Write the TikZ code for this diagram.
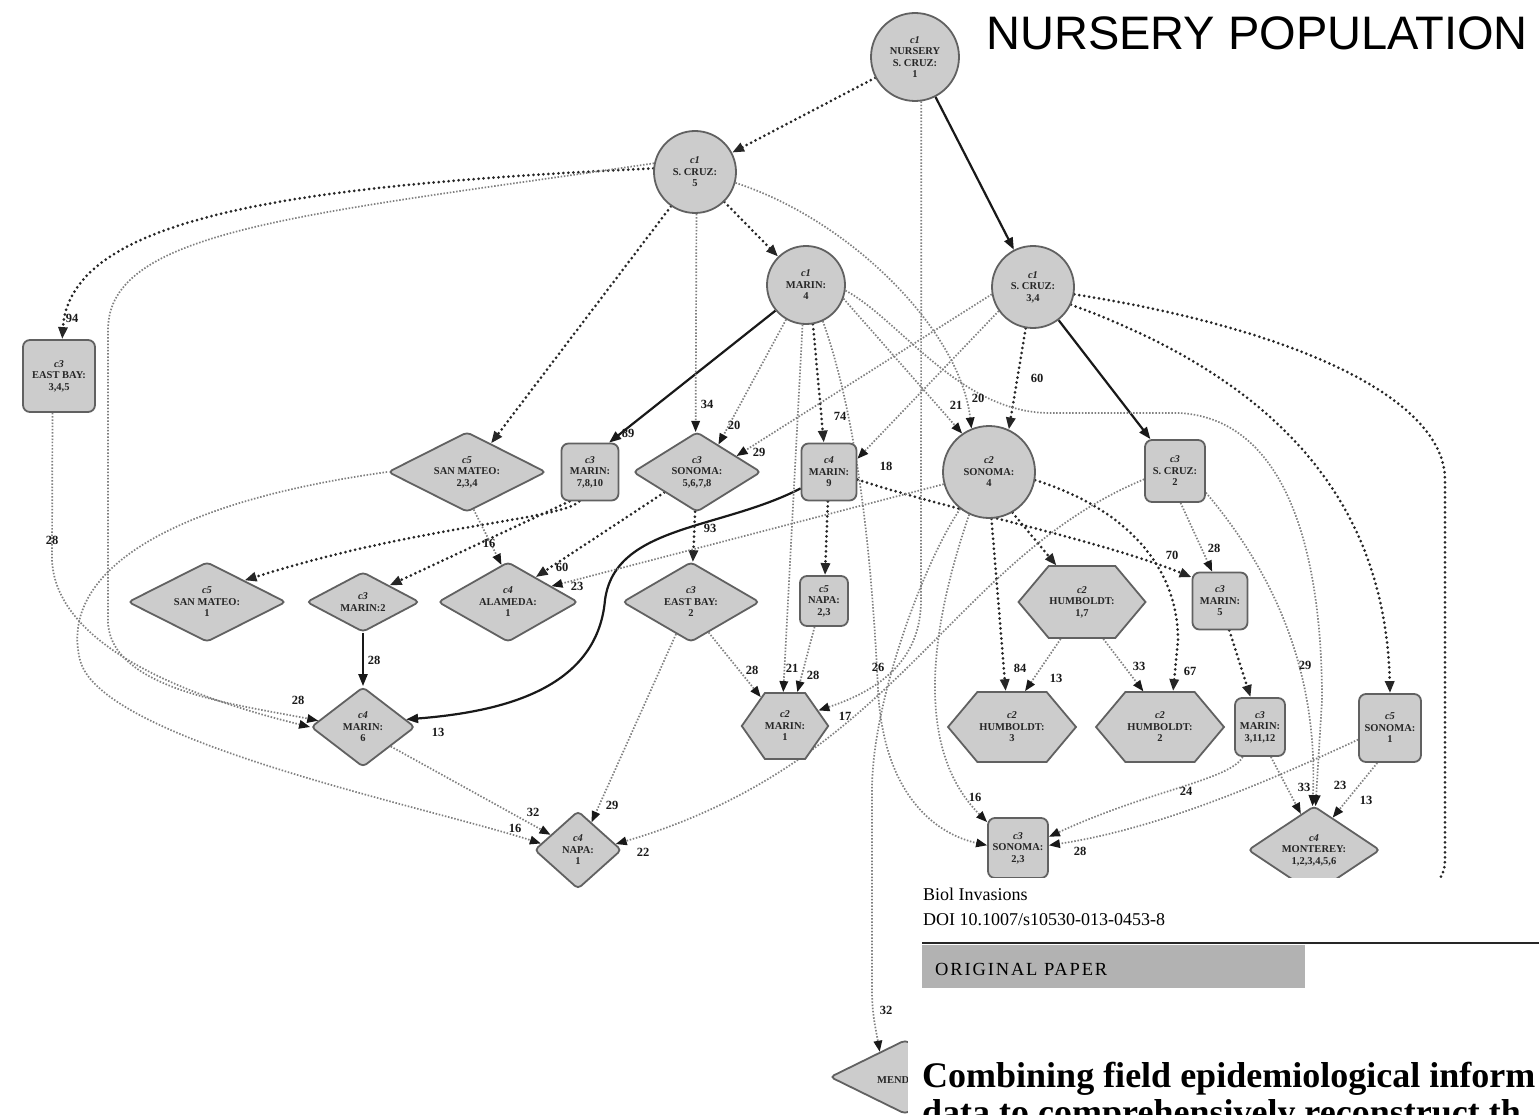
\documentclass[tikz,border=0pt]{standalone}
\usepackage{fontspec}
\setmainfont{Liberation Serif}
\newfontfamily\arialf{Liberation Sans}
\usetikzlibrary{shapes.geometric,shapes.symbols,arrows.meta}
\pgfdeclarelayer{bg}\pgfdeclarelayer{edges}\pgfdeclarelayer{fg}
\pgfsetlayers{bg,edges,main,fg}
\newcommand{\nfont}{\bfseries\fontsize{10.5}{11.5}\selectfont}
\newcommand{\lfont}{\bfseries\fontsize{12.5}{12.5}\selectfont}
\begin{document}
\begin{tikzpicture}[x=1pt,y=-1pt,
  nd/.style={draw=black!62, fill=black!20, line width=1.8pt, font=\nfont, align=center, inner sep=0pt, text=black!85},
  circ/.style={nd, circle},
  rbox/.style={nd, rectangle, rounded corners=7pt},
  dia/.style={nd, diamond, rounded corners=4pt, aspect=2},
  hexa/.style={nd, signal, signal to=east and west, signal pointer angle=100},
  solidE/.style={line width=2.2pt, draw=black!90, -{Triangle[length=12pt,width=9pt]}},
  dotE/.style={line width=3pt, draw=black!85, dash pattern=on 0pt off 5pt, line cap=round, -{Triangle[length=12pt,width=9pt]}},
  lightE/.style={line width=1.7pt, draw=black!50, dash pattern=on 1.5pt off 1.7pt, -{Triangle[length=11pt,width=8.5pt,color=black!90]}},
  lbl/.style={font=\lfont, inner sep=0pt, text=black!90}
]
\begin{pgfonlayer}{bg}
\fill[white] (0,0) rectangle (1539,1115);
\end{pgfonlayer}
\path[use as bounding box] (0,0) rectangle (1539,1115);

% ---------- nodes ----------
\node[circ, minimum size=88pt] (N1) at (915,57) {\textit{c1}\\NURSERY\\S. CRUZ:\\1};
\node[circ, minimum size=82pt] (SC5) at (695,172) {\textit{c1}\\S. CRUZ:\\5};
\node[circ, minimum size=78pt] (MA4) at (806,285) {\textit{c1}\\MARIN:\\4};
\node[circ, minimum size=82pt] (SC34) at (1033,287) {\textit{c1}\\S. CRUZ:\\3,4};
\node[rbox, minimum width=72pt, minimum height=72pt] (EB345) at (59,376) {\textit{c3}\\EAST BAY:\\3,4,5};
\node[dia, minimum width=158pt, minimum height=80pt] (SM234) at (467,472) {\textit{c5}\\SAN MATEO:\\2,3,4};
\node[rbox, minimum width=57pt, minimum height=57pt] (MA7810) at (590,472) {\textit{c3}\\MARIN:\\7,8,10};
\node[dia, minimum width=128pt, minimum height=80pt] (SO5678) at (697,472) {\textit{c3}\\SONOMA:\\5,6,7,8};
\node[rbox, minimum width=55pt, minimum height=57pt] (MA9) at (829,472) {\textit{c4}\\MARIN:\\9};
\node[circ, minimum size=92pt] (SO4) at (989,472) {\textit{c2}\\SONOMA:\\4};
\node[rbox, minimum width=60pt, minimum height=62pt] (SC2) at (1175,471) {\textit{c3}\\S. CRUZ:\\2};
\node[dia, minimum width=158pt, minimum height=80pt] (SM1) at (207,602) {\textit{c5}\\SAN MATEO:\\1};
\node[dia, minimum width=113pt, minimum height=60pt] (MA2) at (363,602) {\textit{c3}\\MARIN:2};
\node[dia, minimum width=140pt, minimum height=80pt] (AL1) at (508,602) {\textit{c4}\\ALAMEDA:\\1};
\node[dia, minimum width=137pt, minimum height=80pt] (EB2) at (691,602) {\textit{c3}\\EAST BAY:\\2};
\node[rbox, minimum width=48pt, minimum height=50pt] (NA23) at (824,601) {\textit{c5}\\NAPA:\\2,3};
\node[hexa, minimum width=127pt, minimum height=72pt] (HU17) at (1082,602) {\textit{c2}\\HUMBOLDT:\\1,7};
\node[rbox, minimum width=55pt, minimum height=57pt] (MA5) at (1220,601) {\textit{c3}\\MARIN:\\5};
\node[dia, aspect=1, minimum width=104pt, minimum height=80pt] (MA6) at (363,727) {\textit{c4}\\MARIN:\\6};
\node[hexa, signal pointer angle=110, minimum width=86pt, minimum height=66pt] (MA1) at (785,726) {\textit{c2}\\MARIN:\\1};
\node[hexa, minimum width=128pt, minimum height=70pt] (HU3) at (1012,727) {\textit{c2}\\HUMBOLDT:\\3};
\node[hexa, minimum width=128pt, minimum height=70pt] (HU2) at (1160,727) {\textit{c2}\\HUMBOLDT:\\2};
\node[rbox, minimum width=50pt, minimum height=58pt] (MA31112) at (1260,727) {\textit{c3}\\MARIN:\\3,11,12};
\node[rbox, minimum width=62pt, minimum height=68pt] (SO1) at (1390,728) {\textit{c5}\\SONOMA:\\1};
\node[dia, aspect=1, minimum width=87pt, minimum height=78pt] (NA1) at (578,850) {\textit{c4}\\NAPA:\\1};
\node[rbox, minimum width=60pt, minimum height=60pt] (SO23) at (1018,848) {\textit{c3}\\SONOMA:\\2,3};
\node[dia, minimum width=132pt, minimum height=88pt] (MO) at (1314,850) {\textit{c4}\\MONTEREY:\\1,2,3,4,5,6};
\node[dia, minimum width=150pt, minimum height=74pt] (MENDO) at (905,1077) {};
\node[font=\nfont, anchor=west, inner sep=0pt, text=black!85] (MENDOt) at (877,1080) {MENDO};
\coordinate (offR) at (1420,895);

% ---------- edges ----------
\begin{pgfonlayer}{edges}
% solid
\draw[solidE] (N1) -- (SC34);
\draw[solidE] (MA4.220) -- (MA7810.57);
\draw[solidE] (SC34) -- (SC2);
\draw[solidE] (MA2) -- (MA6);
\draw[solidE] (MA9.210) .. controls (720,530) and (615,525) .. (605,600) .. controls (597,690) and (500,712) .. (MA6.10);
% thick dotted
\draw[dotE] (N1) -- (SC5);
\draw[dotE] (SC5.175) .. controls (300,185) and (70,215) .. (EB345.85);
\draw[dotE] (SC5.235) -- (SM234.50);
\draw[dotE] (SC5) -- (MA4);
\draw[dotE] (MA4.-80) -- (MA9.100);
\draw[dotE] (SC34.-100) -- (SO4.65);
\draw[dotE] (SC34.-25) .. controls (1250,370) and (1385,480) .. (SO1.north);
\draw[dotE, -] (SC34.-10) .. controls (1300,330) and (1445,400) .. (1445,480) -- (1445,860) .. controls (1445,875) and (1438,885) .. (offR);
\draw[dotE] (SO4.-60) -- (HU17.125);
\draw[dotE] (SO4.-87) -- (HU3.100);
\draw[dotE] (SO4.-10) .. controls (1130,510) and (1178,570) .. (1178,640) -- (HU2.70);
\draw[dotE] (MA9) -- (NA23);
\draw[dotE] (MA9.-15) .. controls (950,510) and (1100,540) .. (MA5.140);
\draw[dotE] (MA7810.-110) .. controls (560,520) and (420,525) .. (SM1.30);
\draw[dotE] (MA7810.-125) -- (MA2.32);
\draw[dotE] (SO5678.212) -- (AL1.42);
\draw[dotE] (SO5678) -- (EB2);
\draw[dotE] (MA5) -- (MA31112);
% light dotted
\draw[lightE] (N1.-82) -- (921,600) .. controls (921,660) and (880,690) .. (MA1.25);
\draw[lightE] (SC5.-88) -- (SO5678.92);
\draw[lightE] (SC5.168) .. controls (300,215) and (108,230) .. (108,330) -- (108,620) .. controls (108,690) and (240,705) .. (MA6.172);
\draw[lightE] (SC5.-15) .. controls (850,220) and (960,330) .. (SO4.112);
\draw[lightE] (MA4.240) -- (SO5678.52);
\draw[lightE] (MA4.-95) -- (MA1.93);
\draw[lightE] (MA4.-20) -- (SO4.125);
\draw[lightE] (MA4.-8) .. controls (900,320) and (960,413) .. (1050,413) -- (1180,413) .. controls (1290,420) and (1322,560) .. (1322,700) -- (MO.88);
\draw[lightE] (MA4.-65) .. controls (858,420) and (872,560) .. (878,690) .. controls (884,800) and (940,835) .. (SO23.175);
\draw[lightE] (SC34.190) -- (SO5678.22);
\draw[lightE] (SC34.215) -- (MA9.25);
\draw[lightE] (SO4.195) -- (AL1.20);
\draw[lightE] (SO4.232) .. controls (925,560) and (872,700) .. (872,790) -- (872,990) .. controls (872,1015) and (876,1030) .. (MENDO.135);
\draw[lightE] (SO4.245) .. controls (940,600) and (905,740) .. (SO23.140);
\draw[lightE] (SC2.-80) -- (MA5.105);
\draw[lightE] (SC2.-35) .. controls (1280,580) and (1318,680) .. (MO.92);
\draw[lightE] (SC2.195) .. controls (950,560) and (900,760) .. (NA1.9);
\draw[lightE] (SM234.-80) -- (AL1.100);
\draw[lightE] (SM234.180) .. controls (150,505) and (60,580) .. (80,660) .. controls (100,740) and (420,805) .. (NA1.170);
\draw[lightE] (EB345.-100) -- (52,560) .. controls (56,650) and (200,700) .. (MA6.180);
\draw[lightE] (MA6.-35) -- (NA1.151);
\draw[lightE] (EB2.-60) -- (MA1.130);
\draw[lightE] (EB2.-115) -- (NA1.64);
\draw[lightE] (NA23.-110) -- (MA1.70);
\draw[lightE] (HU17.-120) -- (HU3.70);
\draw[lightE] (HU17.-60) -- (HU2.115);
\draw[lightE] (MA31112.-70) -- (MO.110);
\draw[lightE] (MA31112.-120) .. controls (1230,780) and (1150,790) .. (SO23.20);
\draw[lightE] (SO1.200) .. controls (1250,790) and (1150,830) .. (SO23.5);
\draw[lightE] (SO1.-110) -- (MO.60);
\end{pgfonlayer}

% ---------- edge labels ----------
\node[lbl] (l01) at (72,318) {94};
\node[lbl] (l02) at (707,404) {34};
\node[lbl] (l03) at (628,433) {89};
\node[lbl] (l04) at (734,425) {20};
\node[lbl] (l05) at (759,452) {29};
\node[lbl] (l06) at (840,416) {74};
\node[lbl] (l07) at (886,466) {18};
\node[lbl] (l08) at (956,405) {21};
\node[lbl] (l09) at (978,398) {20};
\node[lbl] (l10) at (1037,378) {60};
\node[lbl] (l11) at (489,543) {16};
\node[lbl] (l12) at (710,528) {93};
\node[lbl] (l13) at (562,567) {60};
\node[lbl] (l14) at (577,586) {23};
\node[lbl] (l15) at (1172,555) {70};
\node[lbl] (l16) at (1214,548) {28};
\node[lbl] (l17) at (1020,668) {84};
\node[lbl] (l18) at (1056,678) {13};
\node[lbl] (l19) at (1139,666) {33};
\node[lbl] (l20) at (1190,671) {67};
\node[lbl] (l21) at (374,660) {28};
\node[lbl] (l22) at (298,700) {28};
\node[lbl] (l23) at (438,732) {13};
\node[lbl] (l24) at (52,540) {28};
\node[lbl] (l25) at (752,670) {28};
\node[lbl] (l26) at (792,668) {21};
\node[lbl] (l27) at (813,675) {28};
\node[lbl] (l28) at (845,716) {17};
\node[lbl] (l29) at (878,667) {26};
\node[lbl] (l30) at (1305,665) {29};
\node[lbl] (l31) at (975,797) {16};
\node[lbl] (l32) at (1186,791) {24};
\node[lbl] (l33) at (1080,851) {28};
\node[lbl] (l34) at (1304,787) {33};
\node[lbl] (l35) at (1340,785) {23};
\node[lbl] (l36) at (1366,800) {13};
\node[lbl] (l37) at (533,812) {32};
\node[lbl] (l38) at (515,828) {16};
\node[lbl] (l39) at (612,805) {29};
\node[lbl] (l40) at (643,852) {22};
\node[lbl] (l41) at (886,1010) {32};

% ---------- title ----------
\node[anchor=base west, inner sep=0pt, font=\arialf\fontsize{47}{50}\selectfont] (title) at (986,50) {NURSERY POPULATION};

% ---------- paper overlay ----------
\begin{pgfonlayer}{fg}
\fill[white] (908,878) rectangle (1545,1120);
\node[anchor=base west, inner sep=0pt, font=\fontsize{18}{20}\selectfont] (journal) at (923,900) {Biol Invasions};
\node[anchor=base west, inner sep=0pt, font=\fontsize{18}{20}\selectfont] (doi) at (923,925) {DOI 10.1007/s10530-013-0453-8};
\draw[line width=2.5pt, black!85] (922,943) -- (1545,943);
\fill[black!30] (922,945) rectangle (1305,988);
\node[anchor=base west, inner sep=0pt, font=\fontsize{18.5}{20}\selectfont\addfontfeatures{LetterSpace=10}] (orig) at (935,975) {ORIGINAL PAPER};
\node[anchor=base west, inner sep=0pt, font=\bfseries\fontsize{36}{40}\selectfont] (t1) at (922,1087) {Combining field epidemiological inform};
\node[anchor=base west, inner sep=0pt, font=\bfseries\fontsize{36}{40}\selectfont] (t2) at (922,1124) {data to comprehensively reconstruct th};
\end{pgfonlayer}
\end{tikzpicture}
\end{document}
